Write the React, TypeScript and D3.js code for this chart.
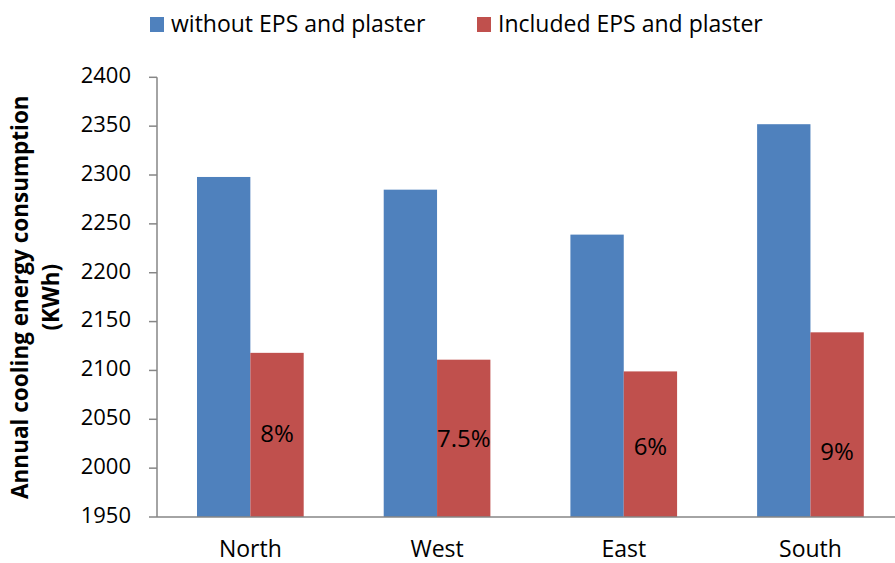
import React from "react";
import * as d3 from "d3";

const categories = ["North", "West", "East", "South"];
const withoutEPS = [2298, 2285, 2239, 2352];
const includedEPS = [2118, 2111, 2099, 2139];
const reductionLabels = ["8%", "7.5%", "6%", "9%"];
const labelAt = [2033, 2028, 2020, 2015];
const yTicks = [1950, 2000, 2050, 2100, 2150, 2200, 2250, 2300, 2350, 2400];
const seriesNames = ["without EPS and plaster", "Included EPS and plaster"];
const colors = ["#4F81BD", "#C0504D"];

const W = 895;
const H = 563;
const FONT = "'Open Sans', 'Liberation Sans', sans-serif";

export default function App() {
  const x0 = 157;
  const step = 186.7;
  const x = d3
    .scaleBand<string>()
    .domain(categories)
    .range([x0, x0 + step * categories.length])
    .paddingInner(0.4286)
    .paddingOuter(0.2143);
  const xs = d3.scaleBand<number>().domain([0, 1]).range([0, x.bandwidth()]);
  const y = d3.scaleLinear().domain([1950, 2400]).range([517, 77.3]);
  const series = [withoutEPS, includedEPS];
  const axisColor = "#868686";

  return (
    <svg
      width={W}
      height={H}
      style={{ position: "absolute", left: 0, top: 0, background: "#fff" }}
      fontFamily={FONT}
    >
      {/* legend */}
      {seriesNames.map((n, i) => {
        const lx = i === 0 ? 150 : 477;
        return (
          <g key={n}>
            <rect x={lx} y={17} width={14} height={15} fill={colors[i]} />
            <text x={lx + 21} y={32} fontSize={23} fill="#000">
              {n}
            </text>
          </g>
        );
      })}

      {/* bars */}
      {categories.map((c, ci) =>
        series.map((s, si) => (
          <rect
            key={c + si}
            x={(x(c) as number) + (xs(si) as number)}
            y={y(s[ci])}
            width={xs.bandwidth()}
            height={y(1950) - y(s[ci])}
            fill={colors[si]}
          />
        ))
      )}

      {/* percent labels */}
      {categories.map((c, ci) => (
        <text
          key={"l" + c}
          x={(x(c) as number) + (xs(1) as number) + xs.bandwidth() / 2}
          y={y(labelAt[ci])}
          fontSize={24}
          textAnchor="middle"
          dominantBaseline="middle"
          fill="#000"
        >
          {reductionLabels[ci]}
        </text>
      ))}

      {/* y axis */}
      <line x1={x0} x2={x0} y1={y(2400)} y2={y(1950)} stroke={axisColor} strokeWidth={1.5} />
      {yTicks.map((t) => (
        <g key={t}>
          <line x1={x0 - 8} x2={x0} y1={y(t)} y2={y(t)} stroke={axisColor} strokeWidth={1.5} />
          <text
            x={131}
            y={y(t)}
            fontSize={22}
            textAnchor="end"
            dominantBaseline="middle"
            fill="#000"
          >
            {t}
          </text>
        </g>
      ))}

      {/* x axis */}
      <line x1={x0} x2={W} y1={y(1950)} y2={y(1950)} stroke={axisColor} strokeWidth={1.5} />
      {categories.map((c) => (
        <text
          key={"c" + c}
          x={(x(c) as number) + x.bandwidth() / 2}
          y={551}
          fontSize={23}
          textAnchor="middle"
          dominantBaseline="middle"
          fill="#000"
        >
          {c}
        </text>
      ))}

      {/* y axis title */}
      <g transform={`translate(22, ${(y(2400) + y(1950)) / 2}) rotate(-90)`}>
        <text x={0} y={0} fontSize={22.5} fontWeight="bold" textAnchor="middle" dominantBaseline="middle" fill="#000">
          Annual cooling energy consumption
        </text>
        <text x={0} y={31} fontSize={22.5} fontWeight="bold" textAnchor="middle" dominantBaseline="middle" fill="#000">
          (KWh)
        </text>
      </g>
    </svg>
  );
}
